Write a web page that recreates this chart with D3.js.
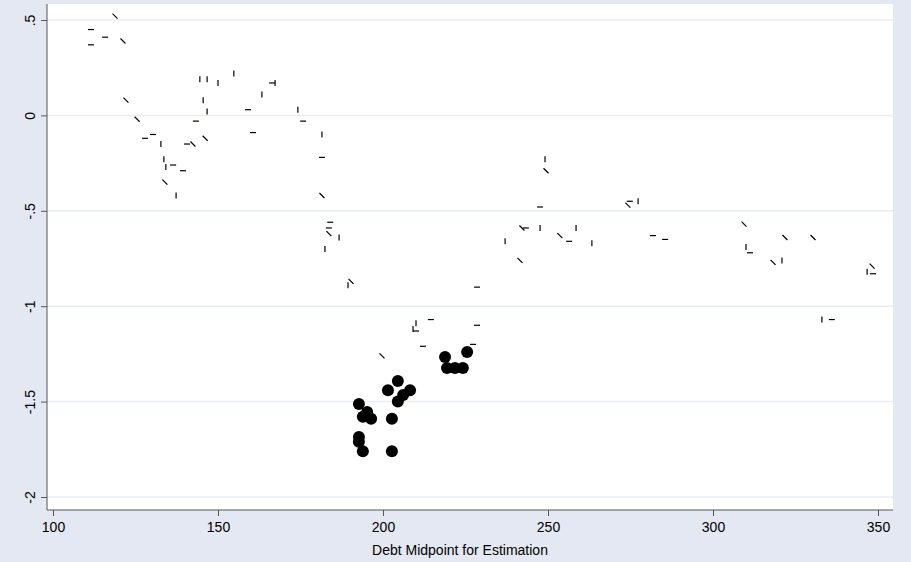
<!DOCTYPE html>
<html><head><meta charset="utf-8">
<script src="https://cdn.jsdelivr.net/npm/d3@7"></script>
<style>body{margin:0;background:#e4e8f2}</style></head>
<body><svg id="c" width="911" height="562"></svg>
<script>
// small line markers: [x, y, type] type h=horizontal, v=vertical, d=diagonal
const markX = [111.5,111.5,115.8,118.8,121.2,122.1,125.5,127.9,130.3,132.7,133.6,134.2,136.4,133.9,137.3,139.4,140.6,142.4,146.1,143.3,144.5,146.7,150,145.5,146.7,154.8,159.1,160.6,163.3,166.4,167.3,174.2,175.8,181.5,181.5,181.5,184,183.6,183.6,186.7,182.4,
 249.1,249.4,247.6,274.2,274.8,277.3,242.1,243.3,247.6,258.5,237,241.5,253.6,256.4,263.3,281.8,285.5,309.4,310,311.2,321.8,330.3,318.2,320.9,346.7,348.2,348.5,333,336,228.5,228.5,190.3,189.4,
 209.1,210,210,214.5,212.1,199.7,227.3];
const markY = [0.45,0.37,0.41,0.52,0.39,0.08,-0.02,-0.12,-0.10,-0.15,-0.23,-0.27,-0.26,-0.35,-0.42,-0.29,-0.15,-0.15,-0.12,-0.03,0.19,0.19,0.17,0.08,0.02,0.22,0.03,-0.09,0.11,0.17,0.17,0.03,-0.03,-0.10,-0.22,-0.42,-0.56,-0.59,-0.62,-0.64,-0.70,
 -0.23,-0.29,-0.48,-0.47,-0.45,-0.45,-0.59,-0.59,-0.59,-0.59,-0.66,-0.76,-0.63,-0.66,-0.67,-0.63,-0.65,-0.57,-0.69,-0.72,-0.64,-0.64,-0.77,-0.76,-0.82,-0.79,-0.83,-1.07,-1.07,-0.90,-1.10,-0.87,-0.89,
 -1.12,-1.09,-1.13,-1.07,-1.21,-1.26,-1.20];
const markT = "hhhddddhhvvvhdvhhddhvvvvvvhhvhvvhvhdhhdvvvdhdhvdhvvvddhvhhdvhdddvvdhvhhhdvvvhhhdhh".split("");
// solid dots
const dotX = [218.8,219.4,221.8,224.2,225.5,204.5,201.5,208.2,206.1,204.5,192.7,195.2,193.9,196.4,202.7,192.7,192.7,193.9,202.7];
const dotY = [-1.266,-1.324,-1.324,-1.324,-1.24,-1.392,-1.44,-1.44,-1.465,-1.50,-1.513,-1.555,-1.58,-1.59,-1.59,-1.685,-1.71,-1.76,-1.76];
const xTicks = [100,150,200,250,300,350];
const yTicks = [0.5,0,-0.5,-1,-1.5,-2];
const yTickLabels = [".5","0","-.5","-1","-1.5","-2"];
const xTitle = "Debt Midpoint for Estimation";

const svg = d3.select("#c");
const L=47,R=893,T=4,B=510;
const x = d3.scaleLinear().domain([100,350]).range([53,878]);
const y = d3.scaleLinear().domain([0.5,-2]).range([20,497]);
svg.append("rect").attr("x",L).attr("y",T).attr("width",R-L).attr("height",B-T).attr("fill","#fff");
svg.append("g").selectAll("line").data(yTicks).join("line")
 .attr("x1",L).attr("x2",R).attr("y1",d=>y(d)).attr("y2",d=>y(d)).attr("stroke","#e8edf3").attr("stroke-width",1.5);
const gx = svg.append("g").attr("transform",`translate(0,${B})`)
 .call(d3.axisBottom(x).tickValues(xTicks).tickSize(6).tickSizeOuter(0));
const gy = svg.append("g").attr("transform",`translate(${L},0)`)
 .call(d3.axisLeft(y).tickValues(yTicks).tickFormat((d,i)=>yTickLabels[i]).tickSize(6).tickSizeOuter(0));
[gx,gy].forEach(g=>{g.select(".domain").attr("stroke","#555");g.selectAll(".tick line").attr("stroke","#555");
 g.selectAll("text").attr("font-family","Liberation Sans, Arial").attr("font-size",14).attr("fill","#000");});
gx.select(".domain").attr("d",`M${L},0H${R}`);
gy.select(".domain").attr("d",`M0,${T}V${B}`);
gx.selectAll("text").attr("dy","0.9em");
gy.selectAll("text").attr("transform","rotate(-90)").attr("x",0).attr("y",-12).attr("dy","0").attr("text-anchor","middle");
svg.append("text").attr("x",(L+R)/2-10).attr("y",555).attr("text-anchor","middle")
 .attr("font-family","Liberation Sans, Arial").attr("font-size",14).text(xTitle);
const marks = markX.map((v,i)=>({x:v,y:markY[i],t:markT[i]||"h"}));
svg.append("g").selectAll("path").data(marks).join("path")
 .attr("d",d=>{const px=x(d.x),py=y(d.y);
   if(d.t==="h") return `M${px-3},${py}H${px+3}`;
   if(d.t==="v") return `M${px},${py-3}V${py+3}`;
   return `M${px-2.5},${py-2.5}L${px+2.5},${py+2.5}`;})
 .attr("stroke","#000").attr("stroke-width",1.2);
svg.append("g").selectAll("circle").data(dotX.map((v,i)=>[v,dotY[i]])).join("circle")
 .attr("cx",d=>x(d[0])).attr("cy",d=>y(d[1])).attr("r",6).attr("fill","#000");
</script></body></html>
